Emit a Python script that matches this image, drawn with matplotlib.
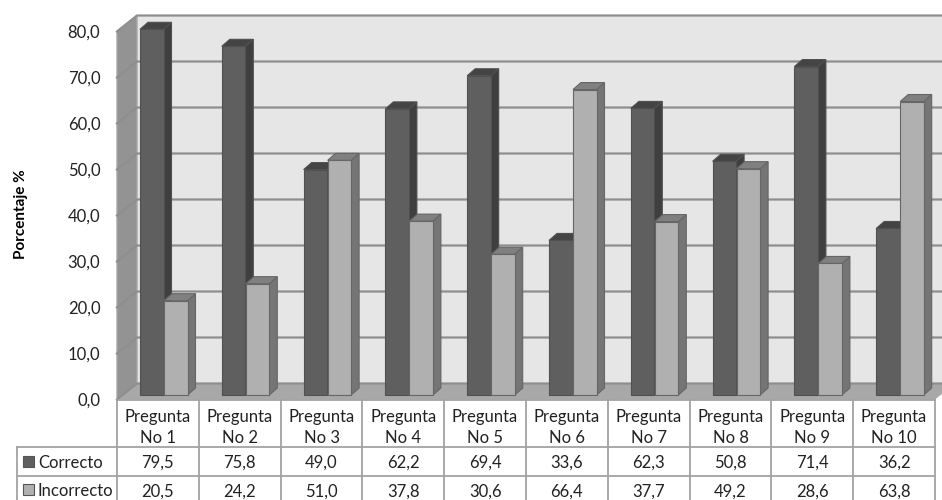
import matplotlib
matplotlib.use('Agg')
import matplotlib.pyplot as plt
from matplotlib.patches import Polygon, Rectangle

categories = ['Pregunta\nNo 1', 'Pregunta\nNo 2', 'Pregunta\nNo 3', 'Pregunta\nNo 4', 'Pregunta\nNo 5',
              'Pregunta\nNo 6', 'Pregunta\nNo 7', 'Pregunta\nNo 8', 'Pregunta\nNo 9', 'Pregunta\nNo 10']
correcto = [79.5, 75.8, 49.0, 62.2, 69.4, 33.6, 62.3, 50.8, 71.4, 36.2]
incorrecto = [20.5, 24.2, 51.0, 37.8, 30.6, 66.4, 37.7, 49.2, 28.6, 63.8]
y_ticks = [0, 10, 20, 30, 40, 50, 60, 70, 80]

plt.rcParams['font.family'] = ['Lato', 'DejaVu Sans']

W, H = 942, 500
LEFT, RIGHT, BOTTOM, TOP = 117, 935, 399.5, 31.5

fig = plt.figure(figsize=(W / 100, H / 100), dpi=100)
ax = fig.add_axes([LEFT / W, 1 - BOTTOM / H, (RIGHT - LEFT) / W, (BOTTOM - TOP) / H])
ax.set_xlim(0, 10)
ax.set_ylim(0, 80)
ax.patch.set_visible(False)
for s in ax.spines.values():
    s.set_visible(False)

# size of one pixel in data units
px = 10 / (RIGHT - LEFT)
py = 80 / (BOTTOM - TOP)
wall_dx = 20 * px
wall_dy = 16 * py


def poly(points, face, edge='none', lw=0.0, z=1):
    ax.add_patch(Polygon(points, closed=True, facecolor=face, edgecolor=edge, linewidth=lw,
                         zorder=z, clip_on=False))


# walls and floor
poly([(wall_dx, wall_dy), (10 + wall_dx, wall_dy), (10 + wall_dx, 80 + wall_dy), (wall_dx, 80 + wall_dy)], '#e6e6e6')
poly([(0, 0), (wall_dx, wall_dy), (wall_dx, 80 + wall_dy), (0, 80)], '#939393', '#a6a6a6', 1.0)
poly([(0, 0), (10, 0), (10 + wall_dx, wall_dy), (wall_dx, wall_dy)], '#a8a8a8')

# gridlines on back wall and left wall
for v in y_ticks:
    ax.plot([0, wall_dx, 10 + wall_dx], [v, v + wall_dy, v + wall_dy], color='#8e8e8e', lw=1.6, zorder=2,
            clip_on=False)

bar_w = 23.5 * px
bar_dx = 8 * px
bar_dy = 7 * py
base = 4.5 * py


def bar3d(x, v, front, side, top, edge):
    y0 = base
    y1 = base + v
    poly([(x + bar_w, y0), (x + bar_w + bar_dx, y0 + bar_dy), (x + bar_w + bar_dx, y1 + bar_dy), (x + bar_w, y1)],
         side, edge, 0.8, 3)
    poly([(x, y1), (x + bar_w, y1), (x + bar_w + bar_dx, y1 + bar_dy), (x + bar_dx, y1 + bar_dy)],
         top, edge, 0.8, 3)
    ax.add_patch(Rectangle((x, y0), bar_w, v, facecolor=front, edgecolor=edge, linewidth=0.8, zorder=3,
                           clip_on=False))


for i in range(len(categories)):
    bar3d(i + 23 * px, correcto[i], '#5f5f5f', '#3f3f3f', '#444444', '#505050')
    bar3d(i + 47 * px, incorrecto[i], '#b0b0b0', '#757575', '#808080', '#666666')

# y axis
ax.set_yticks(y_ticks)
ax.set_yticklabels([('%.1f' % v).replace('.', ',') for v in y_ticks], fontsize=12, color='#222222')
ax.tick_params(axis='y', length=0, pad=12)
ax.set_xticks([])
ax.text(-96 * px, 40.3, 'Porcentaje %', rotation=90, ha='center', va='center', fontsize=11,
        fontweight='bold', color='black')

# data table under the chart, bottom row runs off the picture
row1 = -47.5 * py
row2 = -76.5 * py
row3 = -104 * py
table_left = -100 * px
text_drop = 1.5 * py
line = dict(color='#a2a2a2', lw=1.3, zorder=4, clip_on=False)

ax.plot([0, 10], [0, 0], **line)
ax.plot([table_left, 10], [row1, row1], **line)
ax.plot([table_left, 10], [row2, row2], **line)
ax.plot([table_left, table_left], [row1, row3], **line)
for i in range(len(categories) + 1):
    ax.plot([i, i], [0, row3], **line)

for i in range(len(categories)):
    ax.text(i + 0.5, row1 / 2 - 4.5 * py, categories[i], ha='center', va='center', fontsize=12, linespacing=1.35,
            color='#222222', clip_on=False)
    ax.text(i + 0.5, (row1 + row2) / 2 - text_drop, ('%.1f' % correcto[i]).replace('.', ','), ha='center',
            va='center', fontsize=12, color='#222222', clip_on=False)
    ax.text(i + 0.5, (row2 + row3) / 2 - text_drop, ('%.1f' % incorrecto[i]).replace('.', ','), ha='center',
            va='center', fontsize=12, color='#222222', clip_on=False)

# legend keys inside the table
key = 11
for y_mid, name, color in [((row1 + row2) / 2, 'Correcto', '#5f5f5f'), ((row2 + row3) / 2, 'Incorrecto', '#b0b0b0')]:
    ax.add_patch(Rectangle((table_left + 6 * px, y_mid - key / 2 * py), key * px, key * py, facecolor=color,
                           edgecolor='#555555', linewidth=0.8, zorder=5, clip_on=False))
    ax.text(table_left + 21 * px, y_mid - text_drop, name, ha='left', va='center', fontsize=12, color='#222222',
            clip_on=False)

fig.savefig('out.png', dpi=100)
